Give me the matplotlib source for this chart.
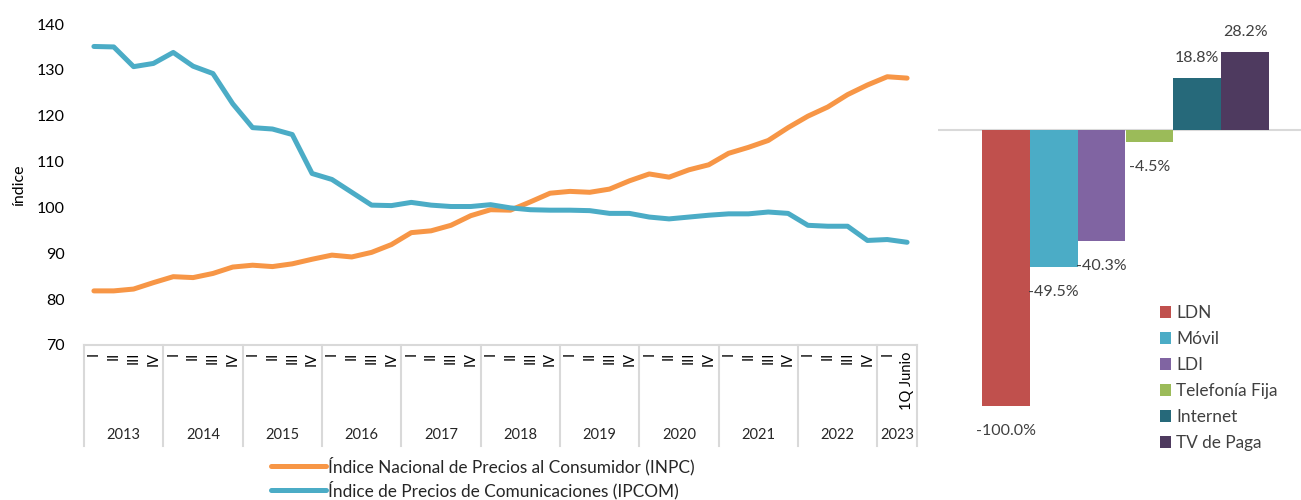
#!/usr/bin/env python3
"""INPC vs IPCOM quarterly index plus service price change bars."""

import matplotlib
matplotlib.use("Agg")
import matplotlib.pyplot as plt
import matplotlib.transforms as mtransforms
from matplotlib.lines import Line2D
import numpy as np

# ---- data -----------------------------------------------------------------
years = ["2013", "2014", "2015", "2016", "2017", "2018", "2019", "2020", "2021", "2022", "2023"]
quarters = ["I", "II", "III", "IV"] * 10 + ["I", "1Q Junio"]
group_sizes = [4] * 10 + [2]

inpc = [81.8, 81.8, 82.2, 83.6, 84.9, 84.7, 85.6, 87.0, 87.4, 87.1, 87.7, 88.7,
        89.6, 89.2, 90.2, 91.9, 94.5, 94.9, 96.1, 98.2, 99.5, 99.4, 101.2, 103.1,
        103.5, 103.3, 104.0, 105.8, 107.3, 106.6, 108.2, 109.3, 111.8, 113.1, 114.6, 117.4,
        119.9, 121.9, 124.6, 126.7, 128.5, 128.2]
ipcom = [135.1, 135.0, 130.7, 131.4, 133.8, 130.8, 129.2, 122.6, 117.4, 117.1, 115.9, 107.4,
         106.1, 103.3, 100.5, 100.4, 101.1, 100.5, 100.2, 100.2, 100.6, 99.9, 99.5, 99.4,
         99.4, 99.3, 98.7, 98.7, 97.9, 97.5, 97.9, 98.3, 98.6, 98.6, 99.0, 98.7,
         96.1, 95.9, 95.9, 92.8, 93.0, 92.4]

services = ["LDN", "Móvil", "LDI", "Telefonía Fija", "Internet", "TV de Paga"]
changes = [-100.0, -49.5, -40.3, -4.5, 18.8, 28.2]

# ---- style ----------------------------------------------------------------
plt.rcParams.update({
    "font.family": ["Lato", "DejaVu Sans"],
    "font.size": 11,
    "text.color": "#262626",
})
orange = "#F79646"
blue = "#4BACC6"
grid_gray = "#D9D9D9"
text_gray = "#404040"
bar_colors = ["#C0504D", "#4BACC6", "#8064A2", "#9BBB59", "#26697A", "#4E3A5F"]

W, H = 1301, 500
fig = plt.figure(figsize=(W / 100, H / 100), dpi=100)


def box(x0, y0, x1, y1):
    # pixel box (top-left origin) -> figure fraction rect
    return [x0 / W, 1 - y1 / H, (x1 - x0) / W, (y1 - y0) / H]


# ---- left: line chart -----------------------------------------------------
ax = fig.add_axes(box(84, 24, 917, 345))
x = np.arange(len(quarters))
ax.plot(x, inpc, color=orange, lw=3.6, solid_capstyle="round", solid_joinstyle="round",
        label="Índice Nacional de Precios al Consumidor (INPC)")
ax.plot(x, ipcom, color=blue, lw=3.6, solid_capstyle="round", solid_joinstyle="round",
        label="Índice de Precios de Comunicaciones (IPCOM)")
ax.set_xlim(-0.5, len(quarters) - 0.5)
ax.set_ylim(70, 140)
ax.set_yticks(np.arange(70, 141, 10))
ax.set_xticks(x)
ax.set_xticklabels(quarters, rotation=90, va="top", ha="center", fontsize=10.5)
ax.tick_params(axis="x", length=0, pad=5)
ax.tick_params(axis="y", length=0, pad=14, labelsize=11.5)
for s in ["top", "right", "left"]:
    ax.spines[s].set_visible(False)
ax.spines["bottom"].set_color(grid_gray)
ax.spines["bottom"].set_linewidth(1.5)
ax.set_ylabel("índice", fontsize=11.5, labelpad=8)

trans = mtransforms.blended_transform_factory(ax.transData, ax.transAxes)
edges = np.concatenate([[0], np.cumsum(group_sizes)]) - 0.5
for e in edges:
    ax.add_line(Line2D([e, e], [0, -0.315], transform=trans, color=grid_gray,
                       lw=1.5, clip_on=False))
for i, yr in enumerate(years):
    ax.text((edges[i] + edges[i + 1]) / 2, -0.28, yr, transform=trans,
            ha="center", va="center", fontsize=10.5)

fig.legend(loc="upper left", bbox_to_anchor=(264 / W, 1 - 450 / H), frameon=False,
           handlelength=3.2, handletextpad=0.12, labelspacing=0.3, fontsize=12.4,
           borderaxespad=0)

# ---- right: bar chart -----------------------------------------------------
bx = fig.add_axes(box(938, 0, 1301, 500))
pos = np.arange(len(services))
unit = (1269 - 982) / 6
bx.set_xlim(-0.5 - (982 - 938) / unit, 5.5 + (1301 - 1269) / unit)
px_per_pct = (406 - 130) / 100
bx.set_ylim(-(500 - 130) / px_per_pct, 130 / px_per_pct)
bx.axhline(0, color=grid_gray, lw=1.5, zorder=0)
bars = bx.bar(pos, changes, width=1.0, color=bar_colors, label=services, zorder=2)
for p, v in zip(pos, changes):
    off = 14.5 if v > 0 else -18
    bx.annotate(f"{v:.1f}%", (p, v), xytext=(0, off), textcoords="offset points",
                ha="center", va="center", fontsize=11.5, color=text_gray)
bx.axis("off")
bx.legend(bars, services, loc="upper left", bbox_to_anchor=(1153 / W, 1 - 298 / H),
          bbox_transform=fig.transFigure, frameon=False, fontsize=12.4,
          handlelength=0.65, handleheight=0.65, handletextpad=0.3, labelspacing=0.58,
          borderaxespad=0, labelcolor=text_gray)

fig.savefig("out.png", dpi=100)
